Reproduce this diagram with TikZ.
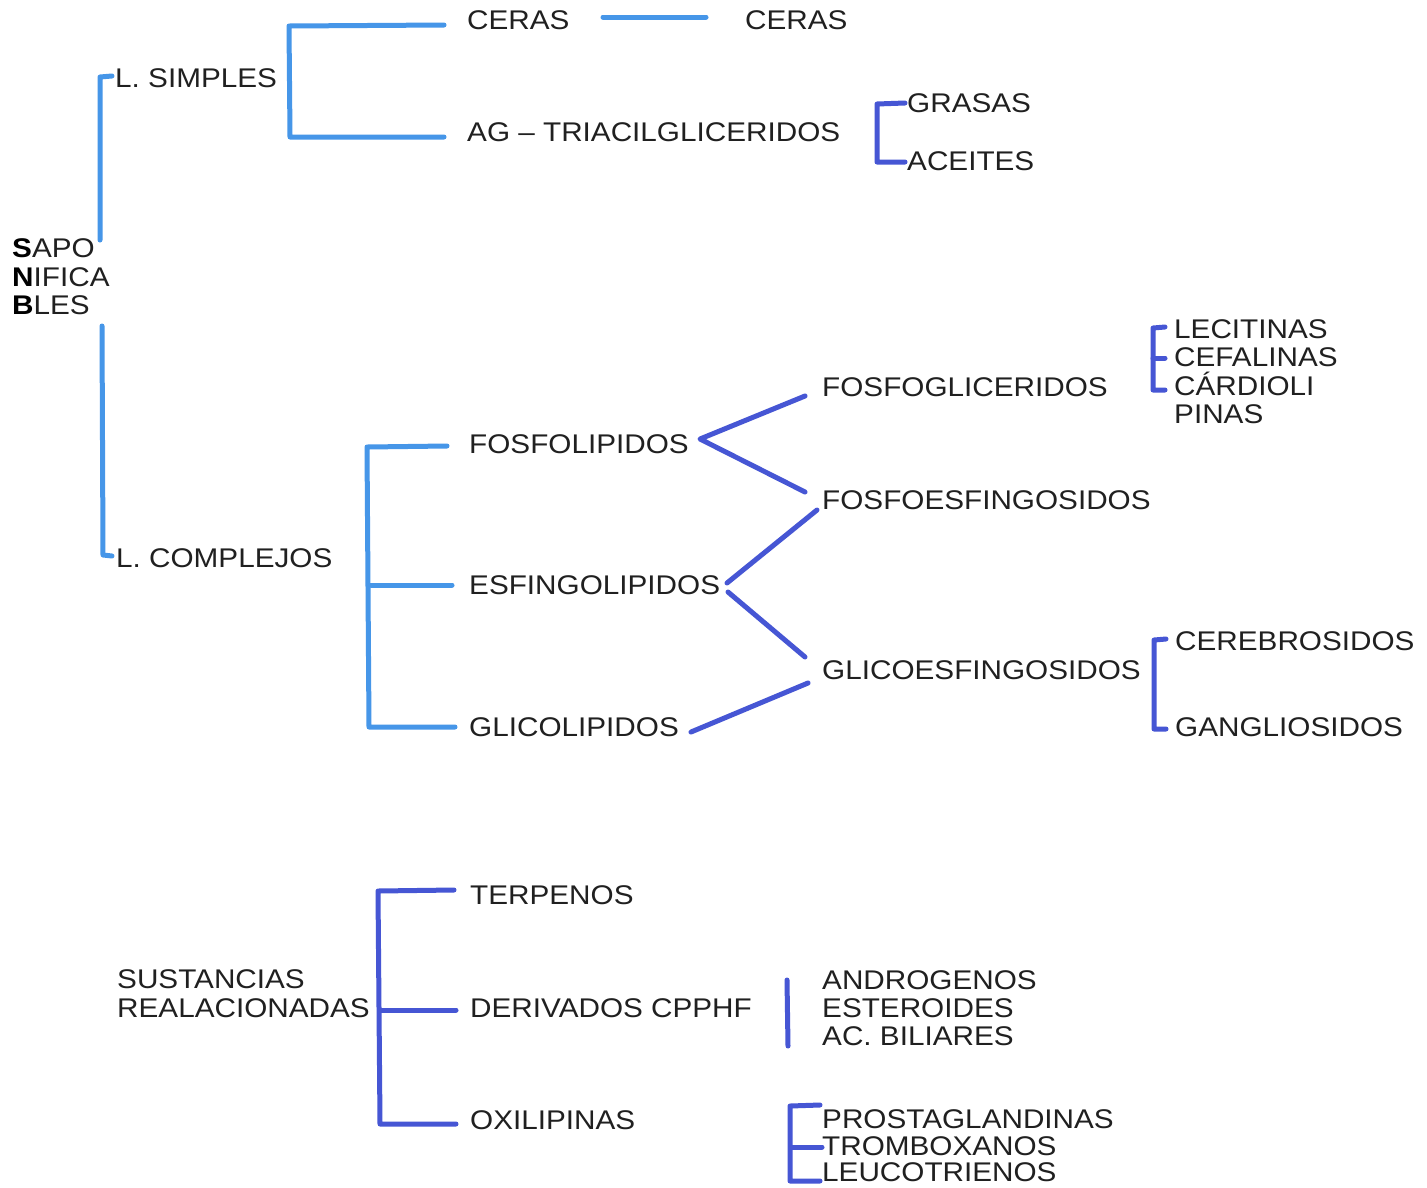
\documentclass[tikz,border=0pt]{standalone}
\usepackage{fontspec}
\setmainfont{Liberation Sans}[FakeStretch=1.1]
\definecolor{sky}{RGB}{70,150,232}
\definecolor{ink}{RGB}{70,86,212}
\definecolor{txt}{RGB}{32,32,32}
\begin{document}
\begin{tikzpicture}[x=1pt,y=-1pt,
  lbl/.style={anchor=west, inner sep=0pt, text=txt, font=\fontsize{27}{30}\selectfont, text height=19.4pt, text depth=0pt},
  link/.style={line width=5pt, line cap=round, line join=round, sky},
  ilink/.style={link, ink}]
\useasboundingbox[fill=white] (0,0) rectangle (1427,1187);

% ---------- text nodes ----------
\node[lbl] (sapo1) at (12,248) {\textbf{\color{black}S}APO};
\node[lbl] (sapo2) at (12,277) {\textbf{\color{black}N}IFICA};
\node[lbl] (sapo3) at (12,305) {\textbf{\color{black}B}LES};
\node[lbl] (simples) at (115,78) {L. SIMPLES};
\node[lbl] (complejos) at (116,558) {L. COMPLEJOS};
\node[lbl] (ceras1) at (467,20) {CERAS};
\node[lbl] (ceras2) at (745,20) {CERAS};
\node[lbl] (ag) at (467,132) {AG -- TRIACILGLICERIDOS};
\node[lbl] (grasas) at (907,103) {GRASAS};
\node[lbl] (aceites) at (907,161) {ACEITES};
\node[lbl] (fosfolip) at (469,444) {FOSFOLIPIDOS};
\node[lbl] (esfingo) at (469,585) {ESFINGOLIPIDOS};
\node[lbl] (glicolip) at (469,727) {GLICOLIPIDOS};
\node[lbl] (fosfoglic) at (822,387) {FOSFOGLICERIDOS};
\node[lbl] (fosfoesf) at (822,500) {FOSFOESFINGOSIDOS};
\node[lbl] (glicoesf) at (822,670) {GLICOESFINGOSIDOS};
\node[lbl] (lecitinas) at (1174,329) {LECITINAS};
\node[lbl] (cefalinas) at (1174,357) {CEFALINAS};
\node[lbl] (cardioli) at (1174,386) {CÁRDIOLI};
\node[lbl] (pinas) at (1174,414) {PINAS};
\node[lbl] (cerebro) at (1175,641) {CEREBROSIDOS};
\node[lbl] (ganglio) at (1175,727) {GANGLIOSIDOS};
\node[lbl] (sust1) at (117,979) {SUSTANCIAS};
\node[lbl] (sust2) at (117,1008) {REALACIONADAS};
\node[lbl] (terpenos) at (470,895) {TERPENOS};
\node[lbl] (derivados) at (470,1008) {DERIVADOS CPPHF};
\node[lbl] (oxili) at (470,1120) {OXILIPINAS};
\node[lbl] (andro) at (822,980) {ANDROGENOS};
\node[lbl] (estero) at (822,1008) {ESTEROIDES};
\node[lbl] (biliares) at (822,1036) {AC. BILIARES};
\node[lbl] (prosta) at (822,1119) {PROSTAGLANDINAS};
\node[lbl] (trombo) at (822,1146) {TROMBOXANOS};
\node[lbl] (leuco) at (822,1172) {LEUCOTRIENOS};

% ---------- coordinates ----------
\coordinate (s0) at (112,76);  \coordinate (s1) at (100,77);  \coordinate (s2) at (100,240);
\coordinate (c0) at (102,326); \coordinate (c1) at (103,555); \coordinate (c2) at (112,556);
\coordinate (b0) at (444,25);  \coordinate (b1) at (289,26);  \coordinate (b2) at (290,137); \coordinate (b3) at (444,137);
\coordinate (cl0) at (603,17); \coordinate (cl1) at (706,17);
\coordinate (g0) at (905,103); \coordinate (g1) at (877,104); \coordinate (g2) at (877,162); \coordinate (g3) at (905,162);
\coordinate (k0) at (447,446); \coordinate (k1) at (367,447); \coordinate (k2) at (369,727); \coordinate (k3) at (455,727);
\coordinate (km0) at (371,585); \coordinate (km1) at (452,585);
\coordinate (f0) at (700,439); \coordinate (f1) at (805,396); \coordinate (f2) at (805,492);
\coordinate (e0) at (727,583); \coordinate (e1) at (817,510); \coordinate (e2) at (728,592); \coordinate (e3) at (805,657);
\coordinate (gl0) at (691,732); \coordinate (gl1) at (808,683);
\coordinate (l0) at (1165,327); \coordinate (l1) at (1153,328); \coordinate (l2) at (1153,390); \coordinate (l3) at (1165,390);
\coordinate (lm0) at (1153,358); \coordinate (lm1) at (1165,358);
\coordinate (cb0) at (1166,639); \coordinate (cb1) at (1154,640); \coordinate (cb2) at (1154,729); \coordinate (cb3) at (1166,729);
\coordinate (t0) at (454,890); \coordinate (t1) at (378,891); \coordinate (t2) at (380,1124); \coordinate (t3) at (456,1124);
\coordinate (tm0) at (380,1010); \coordinate (tm1) at (456,1010);
\coordinate (a0) at (787,980); \coordinate (a1) at (788,1046);
\coordinate (p0) at (820,1105); \coordinate (p1) at (790,1106); \coordinate (p2) at (790,1181); \coordinate (p3) at (820,1181);
\coordinate (pm0) at (791,1147); \coordinate (pm1) at (822,1147);

% ---------- connectors ----------
\draw[link] (s0) -- (s1) -- (s2);
\draw[link] (c0) -- (c1) -- (c2);
\draw[link] (b0) -- (b1) -- (b2) -- (b3);
\draw[link] (cl0) -- (cl1);
\draw[ilink] (g0) -- (g1) -- (g2) -- (g3);
\draw[link] (k0) -- (k1) -- (k2) -- (k3);
\draw[link] (km0) -- (km1);
\draw[ilink] (f1) -- (f0) -- (f2);
\draw[ilink] (e1) -- (e0);
\draw[ilink] (e2) -- (e3);
\draw[ilink] (gl0) -- (gl1);
\draw[ilink] (l0) -- (l1) -- (l2) -- (l3);
\draw[ilink] (lm0) -- (lm1);
\draw[ilink] (cb0) -- (cb1) -- (cb2) -- (cb3);
\draw[ilink] (t0) -- (t1) -- (t2) -- (t3);
\draw[ilink] (tm0) -- (tm1);
\draw[ilink] (a0) -- (a1);
\draw[ilink] (p0) -- (p1) -- (p2) -- (p3);
\draw[ilink] (pm0) -- (pm1);
\end{tikzpicture}
\end{document}
